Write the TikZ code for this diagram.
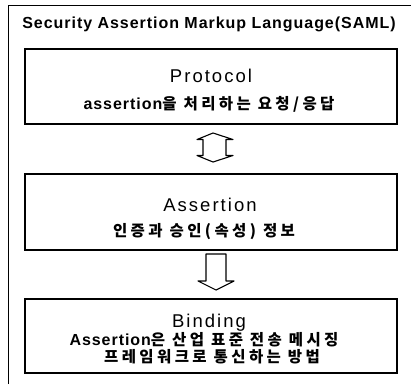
\documentclass[tikz,border=0pt]{standalone}
\usepackage{fontspec}
\setmainfont{Liberation Sans}
\newfontfamily\ttlfont{Liberation Sans}[LetterSpace=6]
\newfontfamily\headfont{Liberation Sans}[LetterSpace=11]
\newfontfamily\subfont{Liberation Sans}[LetterSpace=6]
\newfontfamily\kofont{Noto Sans CJK KR}[LetterSpace=22]
\newcommand{\ko}[1]{{\kofont\bfseries\fontsize{15.5}{17}\selectfont #1}}
\tikzset{
  box/.style={draw=black, line width=1.3pt},
  frame/.style={draw=black, line width=0.9pt},
  bigarrow/.style={draw=black, line width=1.1pt, fill=white, line join=round},
  head/.style={anchor=base, inner sep=0pt, font=\headfont\fontsize{18.5}{20}\selectfont},
  sub/.style={anchor=base, inner sep=0pt, font=\subfont\bfseries\fontsize{16}{18}\selectfont},
  kosub/.style={anchor=center, inner sep=0pt},
  ttl/.style={anchor=base, inner sep=0pt, font=\ttlfont\bfseries\fontsize{16}{18}\selectfont}
}
\begin{document}
\begin{tikzpicture}[x=1pt,y=-1pt]
\useasboundingbox (0,0) rectangle (411,384);
% outer frame (right and bottom edges fall outside the picture)
\draw[frame] (8,384) -- (8,5) -- (411,5);
\node[ttl] (title) at (209,28.3) {Security Assertion Markup Language(SAML)};

% boxes
\node[box, minimum width=372pt, minimum height=75pt, inner sep=0pt] (protocol) at (211,86.5) {};
\node[box, minimum width=372pt, minimum height=76pt, inner sep=0pt] (assertion) at (211,212) {};
\node[box, minimum width=372pt, minimum height=74pt, inner sep=0pt] (binding) at (211,336) {};

% texts
\node[head] (ph) at (211,82) {Protocol};
\node[sub] (ps) at (209,109.3) {assertion\ko{을 처리하는 요청/응답}};
\node[head] (ah) at (210,211.5) {Assertion};
\node[kosub] (as) at (204,231.5) {\ko{인증과 승인(속성) 정보}};
\node[head] (bh) at (209,327.3) {Binding};
\node[sub] (bs1) at (204,345) {Assertion\ko{은 산업 표준 전송 메시징}};
\node[kosub] (bs2) at (212,356.7) {\ko{프레임워크로 통신하는 방법}};

% double arrow between Protocol and Assertion
\coordinate (d1) at (213,133);
\coordinate (d2) at (213,162);
\draw[bigarrow] (d1) -- (233,139.5) -- (226,139.5) -- (226,155.5) -- (233,155.5) -- (d2)
  -- (197,155.5) -- (203,155.5) -- (203,139.5) -- (197,139.5) -- cycle;

% down arrow between Assertion and Binding
\coordinate (a1) at (216,290);
\draw[bigarrow] (206,254) -- (226,254) -- (226,281) -- (234,281) -- (a1)
  -- (198,281) -- (206,281) -- cycle;
\end{tikzpicture}
\end{document}
